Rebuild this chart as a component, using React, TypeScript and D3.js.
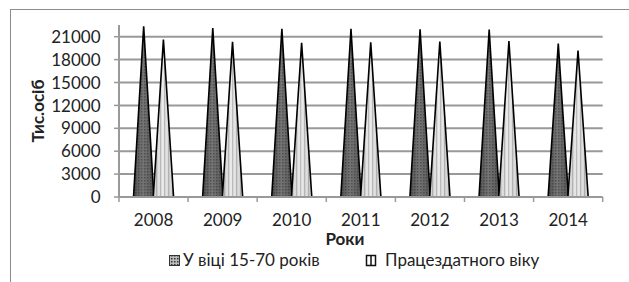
import React from "react";
import * as d3 from "d3";

const years = ["2008", "2009", "2010", "2011", "2012", "2013", "2014"];
const seriesNames = ["У віці 15-70 років", "Працездатного віку"];
const age1570 = [22350, 22150, 22030, 22030, 21980, 21950, 20100];
const workingAge = [20620, 20320, 20190, 20260, 20350, 20440, 19170];
const yTicks = [0, 3000, 6000, 9000, 12000, 15000, 18000, 21000];

const W = 629;
const H = 282;
const FONT = "Lato, 'Open Sans', sans-serif";
const FS = 17;

export default function App() {
  const left = 119;
  const right = 602.7;
  const bottom = 197;
  const axisTop = 25;
  const y = d3.scaleLinear().domain([0, 22534]).range([bottom, axisTop]);
  const x0 = d3.scaleBand<string>().domain(years).range([left, right]).padding(0);
  const x1 = d3
    .scaleBand<string>()
    .domain(seriesNames)
    .range([0, x0.bandwidth()])
    .paddingInner(0)
    .paddingOuter(0.75);
  const data = [age1570, workingAge];
  const fills = ["url(#darkCone)", "url(#lightCone)"];
  const shades = ["url(#darkShade)", "url(#lightShade)"];

  const cone = (cx: number, w: number, v: number) =>
    `M${cx - w / 2},${bottom} L${cx},${y(v)} L${cx + w / 2},${bottom} Z`;

  return (
    <svg
      width={W}
      height={H}
      style={{ position: "absolute", left: 0, top: 0, background: "#fff" }}
    >
      <defs>
        <linearGradient id="darkShade" x1="0" x2="1" y1="0" y2="0">
          <stop offset="0" stopColor="#000" stopOpacity="0.35" />
          <stop offset="0.45" stopColor="#000" stopOpacity="0.05" />
          <stop offset="1" stopColor="#000" stopOpacity="0.3" />
        </linearGradient>
        <linearGradient id="lightShade" x1="0" x2="1" y1="0" y2="0">
          <stop offset="0" stopColor="#000" stopOpacity="0.12" />
          <stop offset="0.45" stopColor="#000" stopOpacity="0" />
          <stop offset="1" stopColor="#000" stopOpacity="0.12" />
        </linearGradient>
        <pattern id="darkCone" width="3" height="3" patternUnits="userSpaceOnUse">
          <rect width="3" height="3" fill="#7c7c7c" />
          <rect width="1.5" height="1.5" fill="#585858" />
        </pattern>
        <pattern id="lightCone" width="4" height="4" patternUnits="userSpaceOnUse">
          <rect width="4" height="4" fill="#e4e4e4" />
          <rect x="0" width="1.2" height="4" fill="#bdbdbd" />
          <rect x="2.5" width="0.8" height="4" fill="#f6f6f6" />
        </pattern>
        <pattern id="legendCross" width="3" height="3" patternUnits="userSpaceOnUse">
          <rect width="3" height="3" fill="#bbb" />
          <rect width="1.5" height="1.5" fill="#333" />
        </pattern>
      </defs>

      {/* outer frame */}
      <rect x={10.5} y={9.5} width={640} height={290} fill="none" stroke="#8c8c8c" strokeWidth={1} />

      {/* gridlines */}
      {yTicks.slice(1).map((t) => (
        <line key={t} x1={left} x2={right} y1={y(t)} y2={y(t)} stroke="#999" strokeWidth={2} />
      ))}

      {/* y axis */}
      <line x1={left} x2={left} y1={axisTop} y2={bottom} stroke="#999" strokeWidth={2} />
      {yTicks.map((t) => (
        <g key={t}>
          <line x1={left - 5} x2={left} y1={y(t)} y2={y(t)} stroke="#999" strokeWidth={1.5} />
          <text
            x={100.5}
            y={y(t)}
            dy="0.36em"
            textAnchor="end"
            fontFamily={FONT}
            fontSize={FS}
            fill="#222"
          >
            {t}
          </text>
        </g>
      ))}

      {/* cones */}
      {years.map((yr, i) => (
        <g key={yr}>
          {seriesNames.map((s, k) => {
            const cx = (x0(yr) as number) + (x1(s) as number) + x1.bandwidth() / 2;
            const w = x1.bandwidth() + 0.6;
            const d = cone(cx, w, data[k][i]);
            return (
              <g key={s}>
                <path d={d} fill={fills[k]} />
                <path d={d} fill={shades[k]} />
                <path d={d} fill="none" stroke="#000" strokeWidth={1.6} strokeLinejoin="miter" />
              </g>
            );
          })}
        </g>
      ))}

      {/* x axis */}
      <line x1={left} x2={right} y1={bottom} y2={bottom} stroke="#999" strokeWidth={2} />
      {[...years.map((yr) => x0(yr) as number), right].map((xv, i) => (
        <line key={i} x1={xv} x2={xv} y1={bottom} y2={bottom + 5} stroke="#999" strokeWidth={1.5} />
      ))}
      {years.map((yr) => (
        <text
          key={yr}
          x={(x0(yr) as number) + x0.bandwidth() / 2}
          y={226}
          textAnchor="middle"
          fontFamily={FONT}
          fontSize={FS}
          fill="#222"
        >
          {yr}
        </text>
      ))}

      {/* axis titles */}
      <text x={345} y={245} textAnchor="middle" fontFamily={FONT} fontSize={FS} fontWeight="bold" fill="#222">
        Роки
      </text>
      <text
        transform={`translate(44,111) rotate(-90)`}
        textAnchor="middle"
        fontFamily={FONT}
        fontSize={FS}
        fontWeight="bold"
        fill="#222"
      >
        Тис.осіб
      </text>

      {/* legend */}
      <rect x={169.5} y={255.5} width={10} height={10} fill="url(#legendCross)" stroke="#333" strokeWidth={1} />
      <text x={183} y={265.5} fontFamily={FONT} fontSize={FS} fill="#222">
        {seriesNames[0]}
      </text>
      <rect x={366.5} y={255.5} width={9} height={10} fill="#fff" stroke="#111" strokeWidth={1.5} />
      <line x1={371} x2={371} y1={255.5} y2={265.5} stroke="#111" strokeWidth={1.5} />
      <text x={385} y={265.5} fontFamily={FONT} fontSize={FS} fill="#222">
        {seriesNames[1]}
      </text>
    </svg>
  );
}
